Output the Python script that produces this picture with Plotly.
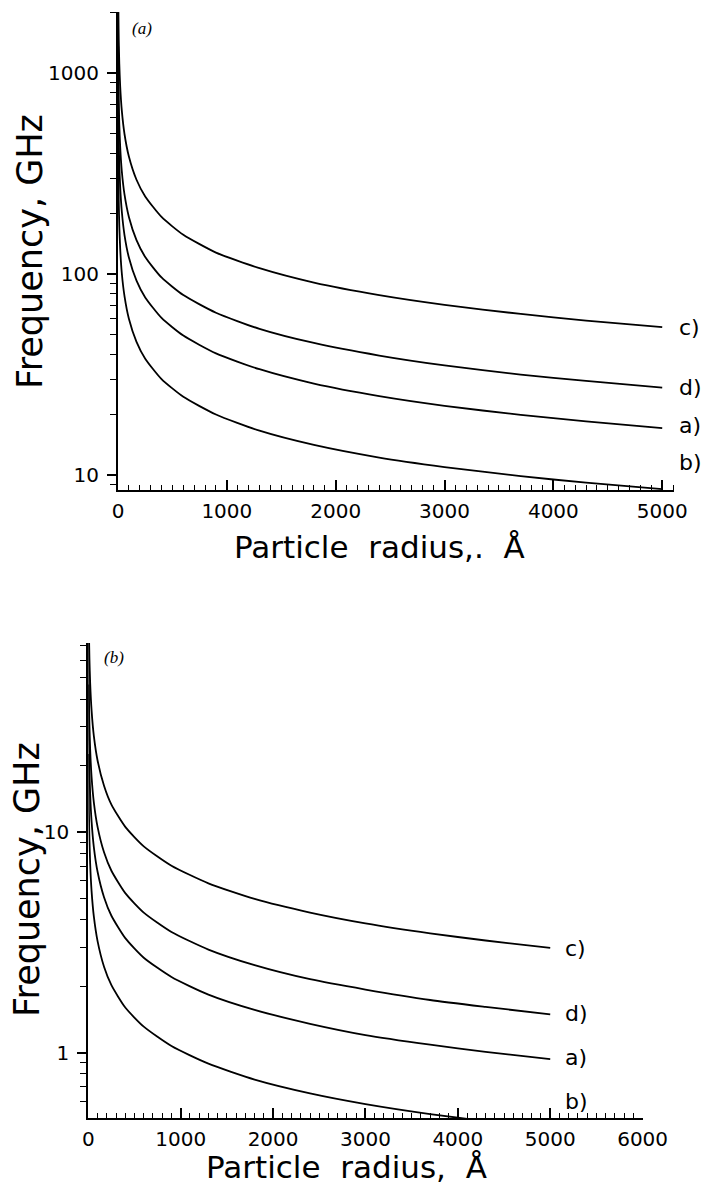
import math
import plotly.graph_objects as go

# ---------------- data ----------------
radius = [2, 4, 7, 12, 20, 35, 60, 100, 170, 250, 400, 600, 900, 1300, 1800, 2400, 3000, 3700, 4300, 5000]

# panel (a), GHz
a_top = [856, 605, 457, 349, 271, 205, 156, 121, 92.8, 76.5, 60.5, 49.4, 40.3, 33.6, 28.5, 24.7, 22.1, 19.9, 18.5, 17.1]
b_top = [424, 300, 227, 173, 134, 101, 77.5, 60, 46, 37.9, 30, 24.5, 20, 16.6, 14.1, 12.2, 10.95, 9.86, 9.15, 8.5]
c_top = [2722, 1925, 1455, 1111, 861, 651, 497, 385, 295, 243.5, 192.5, 157, 128, 107, 90.7, 78.6, 70.3, 63.3, 58.7, 54.5]
d_top = [1361, 962, 728, 556, 430, 325, 248.5, 192.5, 147.6, 121.7, 96.2, 78.6, 64.2, 53.4, 45.4, 39.3, 35.1, 31.6, 29.4, 27.2]

# panel (b), GHz
a_bot = [46.7, 33, 24.9, 19.1, 14.8, 11.2, 8.52, 6.6, 5.06, 4.17, 3.3, 2.69, 2.2, 1.83, 1.56, 1.35, 1.2, 1.085, 1.006, 0.933]
b_bot = [22.6, 16, 12.1, 9.24, 7.16, 5.41, 4.13, 3.2, 2.45, 2.02, 1.6, 1.31, 1.07, 0.89, 0.754, 0.653, 0.584, 0.526, 0.488, 0.453]
c_bot = [149, 105.5, 79.7, 60.9, 47.2, 35.7, 27.2, 21.1, 16.2, 13.3, 10.55, 8.61, 7.03, 5.85, 4.97, 4.31, 3.85, 3.47, 3.22, 2.98]
d_bot = [74.6, 52.8, 39.9, 30.5, 23.6, 17.8, 13.6, 10.55, 8.09, 6.67, 5.28, 4.31, 3.52, 2.93, 2.49, 2.15, 1.93, 1.73, 1.61, 1.49]

curve_names = ["c)", "d)", "a)", "b)"]
top_series = [c_top, d_top, a_top, b_top]
bot_series = [c_bot, d_bot, a_bot, b_bot]
label_y_top = [54.5, 27.2, 17.6, 11.5]
label_y_bot = [2.96, 1.5, 0.95, 0.6]

top_yticks = [10, 100, 1000]
bot_yticks = [1, 10]
top_xticks = [0, 1000, 2000, 3000, 4000, 5000]
bot_xticks = [0, 1000, 2000, 3000, 4000, 5000, 6000]

# ---------------- figure ----------------
W, H = 726, 1190
fig = go.Figure()

for name, ys in zip(curve_names, top_series):
    fig.add_trace(go.Scatter(x=radius, y=ys, mode="lines", name=name,
                             line=dict(color="black", width=1.8, shape="spline", smoothing=0.6),
                             xaxis="x", yaxis="y", showlegend=False))
for name, ys in zip(curve_names, bot_series):
    fig.add_trace(go.Scatter(x=radius, y=ys, mode="lines", name=name,
                             line=dict(color="black", width=1.8, shape="spline", smoothing=0.6),
                             xaxis="x2", yaxis="y2", showlegend=False))

def minor_log(lo_exp, hi_exp):
    vals = []
    for e in range(lo_exp, hi_exp + 1):
        for k in range(2, 10):
            vals.append(k * 10 ** e)
    return vals

tick_font = dict(family="DejaVu Sans", size=20, color="black")

def xaxis_cfg(domain, rng, ticks, anchor):
    return dict(domain=domain, range=rng, anchor=anchor,
                showline=True, linecolor="black", linewidth=2,
                showgrid=False, zeroline=False,
                ticks="inside", ticklen=10, tickwidth=1.5, tickcolor="black",
                tickvals=ticks, ticktext=[str(t) for t in ticks],
                tickfont=tick_font, ticklabelstandoff=2,
                minor=dict(ticks="inside", ticklen=5, tickwidth=1.2, tickcolor="black", dtick=100, showgrid=False))

def yaxis_cfg(domain, rng, ticks, anchor, minors):
    return dict(domain=domain, type="log", range=rng, anchor=anchor,
                showline=True, linecolor="black", linewidth=2,
                showgrid=False, zeroline=False,
                ticks="outside", ticklen=9, tickwidth=1.5, tickcolor="black",
                tickvals=ticks, ticktext=[str(t) for t in ticks],
                tickfont=tick_font, ticklabelstandoff=4,
                minor=dict(ticks="outside", ticklen=6, tickwidth=1.2, tickcolor="black",
                           tickvals=minors, showgrid=False))

fig.update_layout(
    width=W, height=H,
    margin=dict(l=0, r=0, t=0, b=0),
    paper_bgcolor="white", plot_bgcolor="white",
    xaxis=xaxis_cfg([117 / W, 698 / W], [0, 5110], top_xticks, "y"),
    yaxis=yaxis_cfg([1 - 490 / H, 1 - 12 / H], [0.925, 3.305], top_yticks, "x", minor_log(0, 3)),
    xaxis2=xaxis_cfg([86 / W, 665 / W], [0, 6000], bot_xticks, "y2"),
    yaxis2=yaxis_cfg([1 - 1118 / H, 1 - 643 / H], [-0.297, 1.857], bot_yticks, "x2", minor_log(-1, 1)),
)

ann = []
lab_font = dict(family="DejaVu Sans", size=22, color="black")
for name, yv in zip(curve_names, label_y_top):
    ann.append(dict(x=701 / W, y=math.log10(yv), xref="paper", yref="y", text=name,
                    showarrow=False, xanchor="left", yanchor="middle", font=lab_font))
for name, yv in zip(curve_names, label_y_bot):
    ann.append(dict(x=582 / W, y=math.log10(yv), xref="paper", yref="y2", text=name,
                    showarrow=False, xanchor="left", yanchor="middle", font=lab_font))

title_font_y = dict(family="DejaVu Sans", size=35, color="black")
title_font_x = dict(family="DejaVu Sans", size=31, color="black")
ann += [
    dict(x=25 / W, y=1 - 251 / H, xref="paper", yref="paper", text="Frequency, GHz", textangle=-90,
         showarrow=False, xanchor="center", yanchor="middle", font=title_font_y),
    dict(x=22 / W, y=1 - 880 / H, xref="paper", yref="paper", text="Frequency, GHz", textangle=-90,
         showarrow=False, xanchor="center", yanchor="middle", font=title_font_y),
    dict(x=390 / W, y=1 - 547 / H, xref="paper", yref="paper", text="Particle  radius,.  Å",
         showarrow=False, xanchor="center", yanchor="middle", font=title_font_x),
    dict(x=356 / W, y=1 - 1167 / H, xref="paper", yref="paper", text="Particle  radius,  Å",
         showarrow=False, xanchor="center", yanchor="middle", font=title_font_x),
    dict(x=130 / W, y=1 - 28 / H, xref="paper", yref="paper", text="<i>(a)</i>",
         showarrow=False, xanchor="left", yanchor="middle",
         font=dict(family="Liberation Serif", size=17, color="black")),
    dict(x=100 / W, y=1 - 657 / H, xref="paper", yref="paper", text="<i>(b)</i>",
         showarrow=False, xanchor="left", yanchor="middle",
         font=dict(family="Liberation Serif", size=17, color="black")),
]
fig.update_layout(annotations=ann)

fig.write_html("out.html")
